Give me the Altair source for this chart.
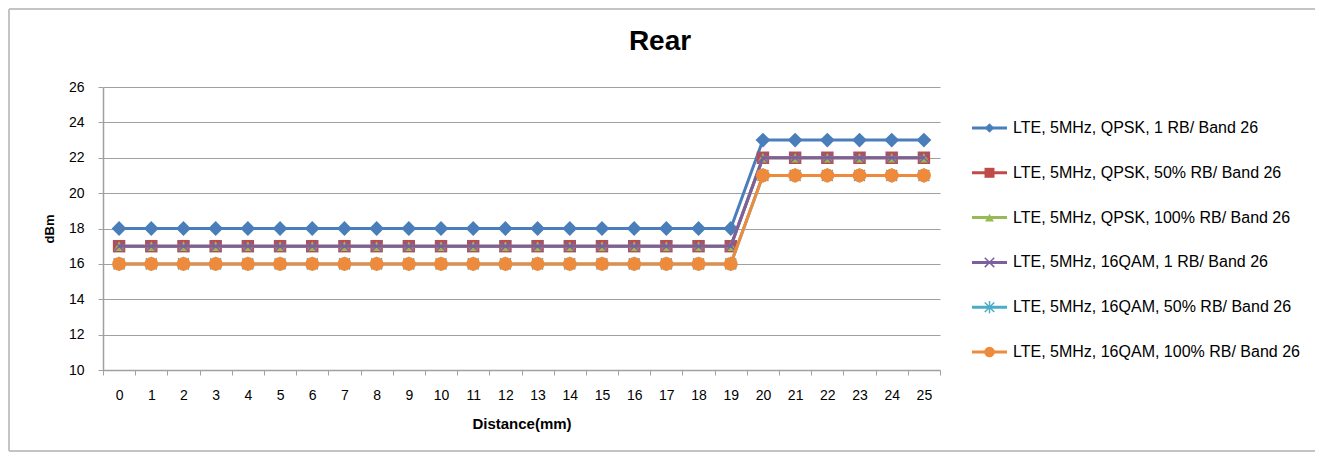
import altair as alt
import pandas as pd

# ---- data ----
distance = [0, 1, 2, 3, 4, 5, 6, 7, 8, 9, 10, 11, 12, 13, 14, 15, 16, 17, 18, 19, 20, 21, 22, 23, 24, 25]

series_names = [
    "LTE, 5MHz, QPSK, 1 RB/ Band 26",
    "LTE, 5MHz, QPSK, 50% RB/ Band 26",
    "LTE, 5MHz, QPSK, 100% RB/ Band 26",
    "LTE, 5MHz, 16QAM, 1 RB/ Band 26",
    "LTE, 5MHz, 16QAM, 50% RB/ Band 26",
    "LTE, 5MHz, 16QAM, 100% RB/ Band 26",
]

qpsk_1rb = [18, 18, 18, 18, 18, 18, 18, 18, 18, 18, 18, 18, 18, 18, 18, 18, 18, 18, 18, 18, 23, 23, 23, 23, 23, 23]
qpsk_50rb = [17, 17, 17, 17, 17, 17, 17, 17, 17, 17, 17, 17, 17, 17, 17, 17, 17, 17, 17, 17, 22, 22, 22, 22, 22, 22]
qpsk_100rb = [17, 17, 17, 17, 17, 17, 17, 17, 17, 17, 17, 17, 17, 17, 17, 17, 17, 17, 17, 17, 22, 22, 22, 22, 22, 22]
qam16_1rb = [17, 17, 17, 17, 17, 17, 17, 17, 17, 17, 17, 17, 17, 17, 17, 17, 17, 17, 17, 17, 22, 22, 22, 22, 22, 22]
qam16_50rb = [16, 16, 16, 16, 16, 16, 16, 16, 16, 16, 16, 16, 16, 16, 16, 16, 16, 16, 16, 16, 21, 21, 21, 21, 21, 21]
qam16_100rb = [16, 16, 16, 16, 16, 16, 16, 16, 16, 16, 16, 16, 16, 16, 16, 16, 16, 16, 16, 16, 21, 21, 21, 21, 21, 21]

all_values = [qpsk_1rb, qpsk_50rb, qpsk_100rb, qam16_1rb, qam16_50rb, qam16_100rb]

y_ticks = [10, 12, 14, 16, 18, 20, 22, 24, 26]

colors = ["#4A7EBB", "#BE4B48", "#98B954", "#7D5FA0", "#4BACC6", "#EE8A3C"]

rows = []
for name, vals in zip(series_names, all_values):
    for d, v in zip(distance, vals):
        rows.append({"distance": d, "dbm": v, "series": name})
df = pd.DataFrame(rows)
legend_df = pd.DataFrame({"series": series_names})

# ---- styles ----
FONT = "Liberation Sans"
GRAY = "#A0A0A0"
FRAME = "#C4C4C4"

point_styles = [
    dict(shape="diamond", filled=True, size=220),
    dict(shape="square", filled=True, size=155),
    dict(shape="triangle-up", filled=True, size=125),
    dict(shape="M-1,-1L1,1M-1,1L1,-1", filled=False, size=120, strokeWidth=1.5),
    dict(shape="M-1,-1L1,1M-1,1L1,-1M0,-1.3V1.3", filled=False, size=120, strokeWidth=1.5),
    dict(shape="circle", filled=True, size=195),
]
legend_point_sizes = [90, 100, 80, 90, 90, 110]

x_enc = alt.X(
    "distance:O",
    title="Distance(mm)",
    scale=alt.Scale(type="band", paddingInner=0, paddingOuter=0),
    axis=alt.Axis(
        labelAngle=0, tickBand="extent", grid=False,
        labelFontSize=14, labelPadding=13, titleFontSize=15, titleFontWeight="bold",
        titlePadding=14,
    ),
)
y_enc = alt.Y(
    "dbm:Q",
    title="dBm",
    scale=alt.Scale(domain=[10, 26], nice=False, zero=False),
    axis=alt.Axis(
        values=y_ticks, grid=True, labelFontSize=14, labelPadding=14,
        titleFontSize=13, titleFontWeight="bold", titlePadding=12,
    ),
)
color_scale = alt.Scale(domain=series_names, range=colors)
color_enc = alt.Color("series:N", scale=color_scale, legend=None)

# legend rows placed by a point scale on the series names
legend_y = alt.Y("series:N", scale=alt.Scale(type="point", domain=series_names, range=[41, 265], padding=0), axis=None)

base = alt.Chart(df)
lbase = alt.Chart(legend_df)
one = alt.Chart(alt.Data(values=[{"k": 1}]))

main_layers = []
legend_layers = []

# outer frame: top, left and bottom edges (the right edge is off the picture)
main_layers.append(one.mark_rule(stroke=FRAME, strokeWidth=2).encode(
    x=alt.value(-94), x2=alt.value(1240), y=alt.value(-78)))
main_layers.append(one.mark_rule(stroke=FRAME, strokeWidth=2).encode(
    x=alt.value(-94), y=alt.value(-78), y2=alt.value(364)))
main_layers.append(one.mark_rule(stroke=FRAME, strokeWidth=2).encode(
    x=alt.value(-94), x2=alt.value(1240), y=alt.value(364)))

for name, ps, lsz in zip(series_names, point_styles, legend_point_sizes):
    sub = base.transform_filter(alt.datum.series == name)
    line = sub.mark_line(strokeWidth=3).encode(x=x_enc, y=y_enc, color=color_enc)
    pkw = dict(shape=ps["shape"], filled=ps["filled"], size=ps["size"], opacity=1)
    if "strokeWidth" in ps:
        pkw["strokeWidth"] = ps["strokeWidth"]
    pts = sub.mark_point(**pkw).encode(x=x_enc, y=y_enc, color=color_enc)
    main_layers.append(line)
    main_layers.append(pts)

    lsub = lbase.transform_filter(alt.datum.series == name)
    lrule = lsub.mark_rule(strokeWidth=3).encode(
        x=alt.value(869), x2=alt.value(904), y=legend_y, color=color_enc
    )
    lkw = dict(pkw)
    lkw["size"] = lsz
    lpt = lsub.mark_point(**lkw).encode(x=alt.value(886.5), y=legend_y, color=color_enc)
    legend_layers.append(lrule)
    legend_layers.append(lpt)

legend_text = lbase.mark_text(
    font=FONT, fontSize=16, align="left", baseline="middle", color="#000000"
).encode(x=alt.value(910), y=legend_y, text="series:N")
legend_layers.append(legend_text)

title_mark = one.mark_text(
    font=FONT, fontSize=28, fontWeight="bold", baseline="alphabetic", align="center", color="#000000"
).encode(x=alt.value(557), y=alt.value(-37), text=alt.value("Rear"))
main_layers.append(title_mark)

main = alt.layer(*main_layers)
legend = alt.layer(*legend_layers)

chart = alt.layer(main, legend).resolve_scale(y="independent").properties(
    width=837, height=283,
    padding={"left": 95, "top": 79, "right": 375, "bottom": 82},
    autosize=alt.AutoSizeParams(type="none"),
).configure_view(stroke=None).configure_axis(
    labelFont=FONT, titleFont=FONT, labelColor="#000000", titleColor="#000000",
    domainColor=GRAY, tickColor=GRAY, gridColor=GRAY, domainWidth=1.5, tickSize=5,
    gridWidth=1,
)

chart.save("out.html", embed_options={"renderer": "svg", "actions": False})
